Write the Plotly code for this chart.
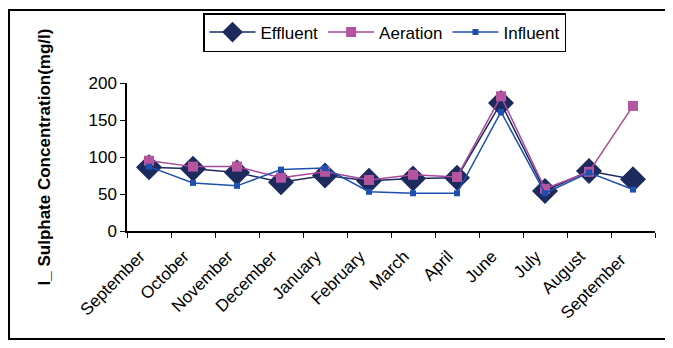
import plotly.graph_objects as go

months = ["September", "October", "November", "December", "January", "February",
          "March", "April", "June", "July", "August", "September "]
effluent = [86, 84, 79, 66, 75, 68, 71, 72, 173, 54, 81, 70]
aeration = [95, 87, 87, 72, 80, 69, 76, 73, 182, 57, 80, 169]
influent = [87, 65, 61, 83, 85, 53, 51, 51, 161, 51, 79, 56]

# page has an 8px body margin; work in page pixels and convert
OFF = 8
W, H = 673 - OFF, 348 - OFF
PL, PR, PT, PB = 127, 655, 83, 231  # plot area in page pixels
L, T = PL - OFF, PT - OFF
R = W - (PR - OFF)
B = H - (PB - OFF)
pw, ph = PR - PL, PB - PT

fig = go.Figure()
fig.add_trace(go.Scatter(x=months, y=effluent, name="Effluent", mode="lines+markers",
                         line=dict(color="#1C2A5E", width=1.5),
                         marker=dict(symbol="diamond", size=20, color="#1C2A5E")))
fig.add_trace(go.Scatter(x=months, y=aeration, name="Aeration", mode="lines+markers",
                         line=dict(color="#A9489A", width=1.5),
                         marker=dict(symbol="square", size=10, color="#B5559F")))
fig.add_trace(go.Scatter(x=months, y=influent, name="Influent", mode="lines+markers",
                         line=dict(color="#1F50B0", width=1.5),
                         marker=dict(symbol="square", size=6, color="#1F50B0")))

def px(x):
    return (x - PL) / pw

def py(y):
    return (PB - y) / ph

fig.add_shape(type="rect", xref="paper", yref="paper",
              x0=px(9), x1=px(669), y0=py(339), y1=py(10),
              line=dict(color="black", width=2), fillcolor="rgba(0,0,0,0)")

fig.update_layout(
    template="none",
    width=W, height=H,
    margin=dict(l=L, r=R, t=T, b=B, autoexpand=False),
    paper_bgcolor="white", plot_bgcolor="white",
    font=dict(family="Liberation Sans, Arial", color="black", size=16),
    showlegend=True,
    legend=dict(orientation="h", x=px(203), y=py(13), xanchor="left", yanchor="top",
                bordercolor="black", borderwidth=1.5, bgcolor="white",
                font=dict(size=17), itemwidth=46, tracegroupgap=0),
    xaxis=dict(type="category", showline=True, linecolor="black", linewidth=1.5,
               ticks="outside", ticklen=5, tickcolor="black", tickson="boundaries",
               tickangle=-45, showgrid=False, tickfont=dict(size=17),
               ticklabelshift=-9, ticklabelstandoff=7,
               range=[-0.5, 11.5], automargin=False, zeroline=False),
    yaxis=dict(range=[0, 200], tickvals=[0, 50, 100, 150, 200], showline=True,
               linecolor="black", linewidth=1.5, ticks="outside", ticklen=5,
               tickcolor="black", showgrid=False, zeroline=False, tickfont=dict(size=17),
               automargin=False,
               title=dict(text="<b>I_ Sulphate Concentration(mg/l)</b>",
                          font=dict(size=17), standoff=34)),
)

fig.write_html("out.html")
